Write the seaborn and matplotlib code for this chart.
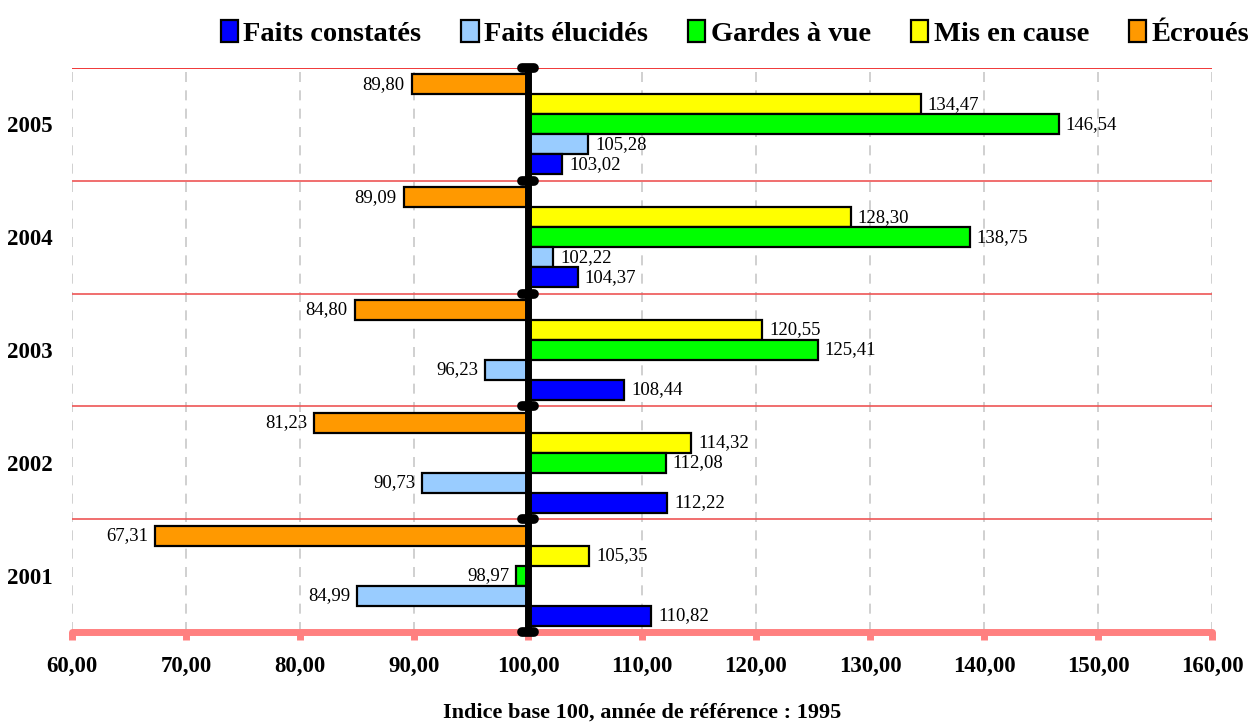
import matplotlib
matplotlib.use("Agg")
import matplotlib.pyplot as plt
import matplotlib.patches as mpatches
import seaborn as sns
import pandas as pd

years = ["2005", "2004", "2003", "2002", "2001"]
series = ["Faits constatés", "Faits élucidés", "Gardes à vue", "Mis en cause", "Écroués"]
faits_constates = [103.02, 104.37, 108.44, 112.22, 110.82]
faits_elucides = [105.28, 102.22, 96.23, 90.73, 84.99]
gardes_a_vue = [146.54, 138.75, 125.41, 112.08, 98.97]
mis_en_cause = [134.47, 128.30, 120.55, 114.32, 105.35]
ecroues = [89.80, 89.09, 84.80, 81.23, 67.31]
x_ticks = [60, 70, 80, 90, 100, 110, 120, 130, 140, 150, 160]
base = 100
x_label = "Indice base 100, année de référence : 1995"

colors = {
    "Faits constatés": "#0000ff",
    "Faits élucidés": "#99ccff",
    "Gardes à vue": "#00ff00",
    "Mis en cause": "#ffff00",
    "Écroués": "#ff9900",
}

values = dict(zip(series, [faits_constates, faits_elucides, gardes_a_vue, mis_en_cause, ecroues]))
rows = []
for s in series:
    for y, v in zip(years, values[s]):
        rows.append({"Année": y, "Série": s, "Indice": v})
df = pd.DataFrame(rows)

sns.set_theme(style="white")
plt.rcParams["font.family"] = ["Liberation Serif", "DejaVu Serif"]
plt.rcParams["text.color"] = "black"
plt.rcParams["xtick.color"] = "black"
plt.rcParams["ytick.color"] = "black"
plt.rcParams["xtick.labelcolor"] = "black"
plt.rcParams["ytick.labelcolor"] = "black"
plt.rcParams["axes.labelcolor"] = "black"

fig = plt.figure(figsize=(12.5, 7.22), dpi=100)
ax = fig.add_axes([72 / 1250, 1 - 632 / 722, (1212 - 72) / 1250, (632 - 68) / 722])

hue_order = ["Écroués", "Mis en cause", "Gardes à vue", "Faits élucidés", "Faits constatés"]
sns.barplot(data=df, y="Année", x="Indice", hue="Série", order=years, hue_order=hue_order,
            palette=colors, saturation=1, orient="h", width=0.885, gap=0, edgecolor="black",
            linewidth=1.6, legend=False, ax=ax, zorder=3)

# Bars start from the base value 100
for cont, s in zip(ax.containers, hue_order):
    for bar, v in zip(cont, values[s]):
        bar.set_x(base)
        bar.set_width(v - base)
        yc = bar.get_y() + bar.get_height() / 2
        label = f"{v:.2f}".replace(".", ",")
        if v >= base:
            ax.annotate(label, (v, yc), xytext=(5, 0), textcoords="offset points",
                        ha="left", va="center", fontsize=13.5, color="black", zorder=5)
        else:
            ax.annotate(label, (v, yc), xytext=(-5, 0), textcoords="offset points",
                        ha="right", va="center", fontsize=13.5, color="black", zorder=5)

ax.set_xlim(60, 160)
ax.set_ylim(len(years) - 0.5, -0.5)

# grid
for xt in x_ticks:
    ax.axvline(xt, color="#c8c8c8", lw=1.2, ls=(0, (6, 5)), zorder=1)
for i in range(len(years)):
    ax.axhline(i - 0.5, color="#ee1515" if i == 0 else "#ee5555", lw=1.2, zorder=2)

# central axis
ax.axvline(base, color="black", lw=5, zorder=6)
for i in range(len(years) + 1):
    ax.plot([base - 0.5, base + 0.5], [i - 0.5, i - 0.5], color="black", lw=7,
            solid_capstyle="round", zorder=7, clip_on=False)

for side in ["left", "right", "top"]:
    ax.spines[side].set_visible(False)
ax.spines["bottom"].set_color("#ff8080")
ax.spines["bottom"].set_linewidth(5)
ax.spines["bottom"].set_capstyle("round")
ax.spines["bottom"].set_zorder(4)

ax.set_xticks(x_ticks)
ax.set_xticklabels([f"{t:.2f}".replace(".", ",") for t in x_ticks], fontsize=16.5,
                   fontweight="bold", color="black")
ax.tick_params(axis="x", direction="out", length=6, width=5, color="#ff8080", pad=11, bottom=True)
ax.tick_params(axis="y", length=0, pad=14)
ax.set_yticks(range(len(years)))
ax.set_yticklabels(years, fontsize=16.5, fontweight="bold", color="black")
ax.set_ylabel("")
ax.set_xlabel(x_label, fontsize=16, fontweight="bold", labelpad=19, color="black")

handles = [mpatches.Patch(facecolor=colors[s], edgecolor="black", linewidth=1.6) for s in series]
leg = fig.legend(handles, series, loc="upper right", bbox_to_anchor=(1.02, 1.008), ncol=5,
                 frameon=False, handlelength=0.6, handleheight=0.8, handletextpad=0.2,
                 columnspacing=1.4, prop={"size": 20.5, "weight": "bold"})

fig.savefig("out.png", dpi=100)
